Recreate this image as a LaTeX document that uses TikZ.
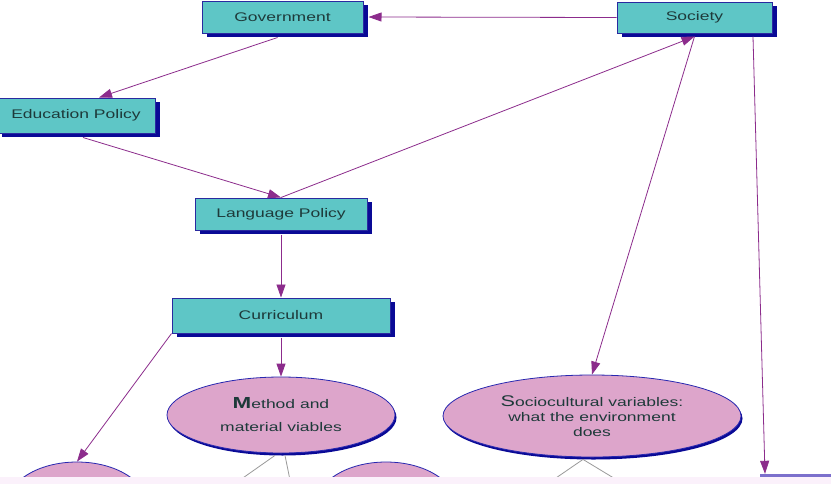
\documentclass[tikz,border=0pt]{standalone}
\usepackage{fontspec}
\setmainfont{Liberation Sans}
\usetikzlibrary{shapes.geometric,arrows.meta,shadows}
\definecolor{boxfill}{HTML}{5EC6C6}
\definecolor{boxline}{HTML}{2A2AA0}
\definecolor{boxshadow}{HTML}{0A0A96}
\definecolor{elfill}{HTML}{DDA5CB}
\definecolor{elline}{HTML}{2828B0}
\definecolor{arr}{HTML}{8C2C8C}
\definecolor{txt}{HTML}{1E3A3A}
\definecolor{strip}{HTML}{FBF1FB}
\definecolor{tbox}{HTML}{7C70CC}
\definecolor{thin}{HTML}{9A9A9A}
\newcommand{\wide}[1]{\scalebox{1.4}[1]{#1}}
\tikzset{
  box/.style={rectangle, draw=boxline, line width=1pt, fill=boxfill, text=txt,
    font=\fontsize{12.5}{14}\selectfont, inner sep=0pt,
    drop shadow={shadow xshift=5pt, shadow yshift=-4pt, fill=boxshadow, opacity=1}},
  ell/.style={ellipse, draw=elline, line width=0.8pt, fill=elfill, text=txt,
    inner sep=0pt, align=center,
    drop shadow={shadow xshift=1.5pt, shadow yshift=-2.5pt, fill=boxshadow, opacity=1}},
  ar/.style={draw=arr, line width=0.8pt, -{Triangle[length=13pt,width=9pt]}},
  plain/.style={draw=thin, line width=0.8pt}
}
\begin{document}
\begin{tikzpicture}[x=1pt,y=-1pt]
\useasboundingbox (0,0) rectangle (831,483);
\clip (0,0) rectangle (831,483);
\fill[white] (0,0) rectangle (831,483);
% boxes
\node[box, minimum width=161pt, minimum height=32pt] (gov) at (282.5,17) {\wide{Government}};
\node[box, minimum width=155pt, minimum height=31pt] (soc) at (694.5,17.5) {\wide{Society}};
\node[box, minimum width=158pt, minimum height=35pt] (ep) at (76,115.5) {\wide{Education Policy}};
\node[box, minimum width=172pt, minimum height=32pt] (lp) at (281,214) {\wide{Language Policy}};
\node[box, minimum width=218pt, minimum height=35pt] (cur) at (281,315.5) {\wide{Curriculum}};
% ellipses
\node[ell, minimum width=228pt, minimum height=76pt,
  font=\fontsize{12.5}{23}\selectfont] (meth) at (281,415)
  {\wide{{\fontsize{16}{16}\selectfont\bfseries M}ethod and}\\ \wide{material viables}};
\node[ell, minimum width=298pt, minimum height=82pt,
  font=\fontsize{12.5}{15}\selectfont] (socio) at (592,416)
  {\wide{{\fontsize{15.5}{15}\selectfont S}ociocultural variables:}\\ \wide{what the environment}\\ \wide{does}};
\node[ell, minimum width=140pt, minimum height=86pt] (pl) at (77,505) {};
\node[ell, minimum width=140pt, minimum height=86pt] (pm) at (386,505) {};
\node[rectangle, fill=tbox, minimum width=80pt, minimum height=16pt, inner sep=0pt] (rb) at (800,482) {};
% coordinates for free ends
\coordinate (m1) at (240,480);
\coordinate (m2) at (290,480);
\coordinate (s1) at (553,480);
\coordinate (s2) at (617,480);
% connectors
\draw[ar] (soc.west) -- ([xshift=5pt]gov.east);
\draw[ar] ([xshift=-5pt,yshift=-4pt]gov.south) -- ([xshift=23pt]ep.north);
\draw[ar] ([xshift=7pt,yshift=-4pt]ep.south) -- (lp.north);
\draw[ar] (lp.north) -- ([yshift=-3pt]soc.south);
\draw[ar] ([yshift=-3pt]soc.south) -- (socio.north);
\draw[ar] ([xshift=58.5pt,yshift=-3pt]soc.south) -- ([xshift=-35pt]rb.north);
\draw[ar] ([yshift=-4pt]lp.south) -- (cur.north);
\draw[ar] ([yshift=-4pt]cur.south) -- (meth.north);
\draw[ar] (cur.south west) -- (pl.north);
\draw[plain] ([xshift=-6pt,yshift=-2pt]meth.south) -- (m1);
\draw[plain] ([xshift=4pt,yshift=-2pt]meth.south) -- (m2);
\draw[plain] ([xshift=-9pt,yshift=-2pt]socio.south) -- (s1);
\draw[plain] ([xshift=-9pt,yshift=-2pt]socio.south) -- (s2);
% bottom strip
\fill[strip] (-10,477) rectangle (845,495);
\end{tikzpicture}
\end{document}
